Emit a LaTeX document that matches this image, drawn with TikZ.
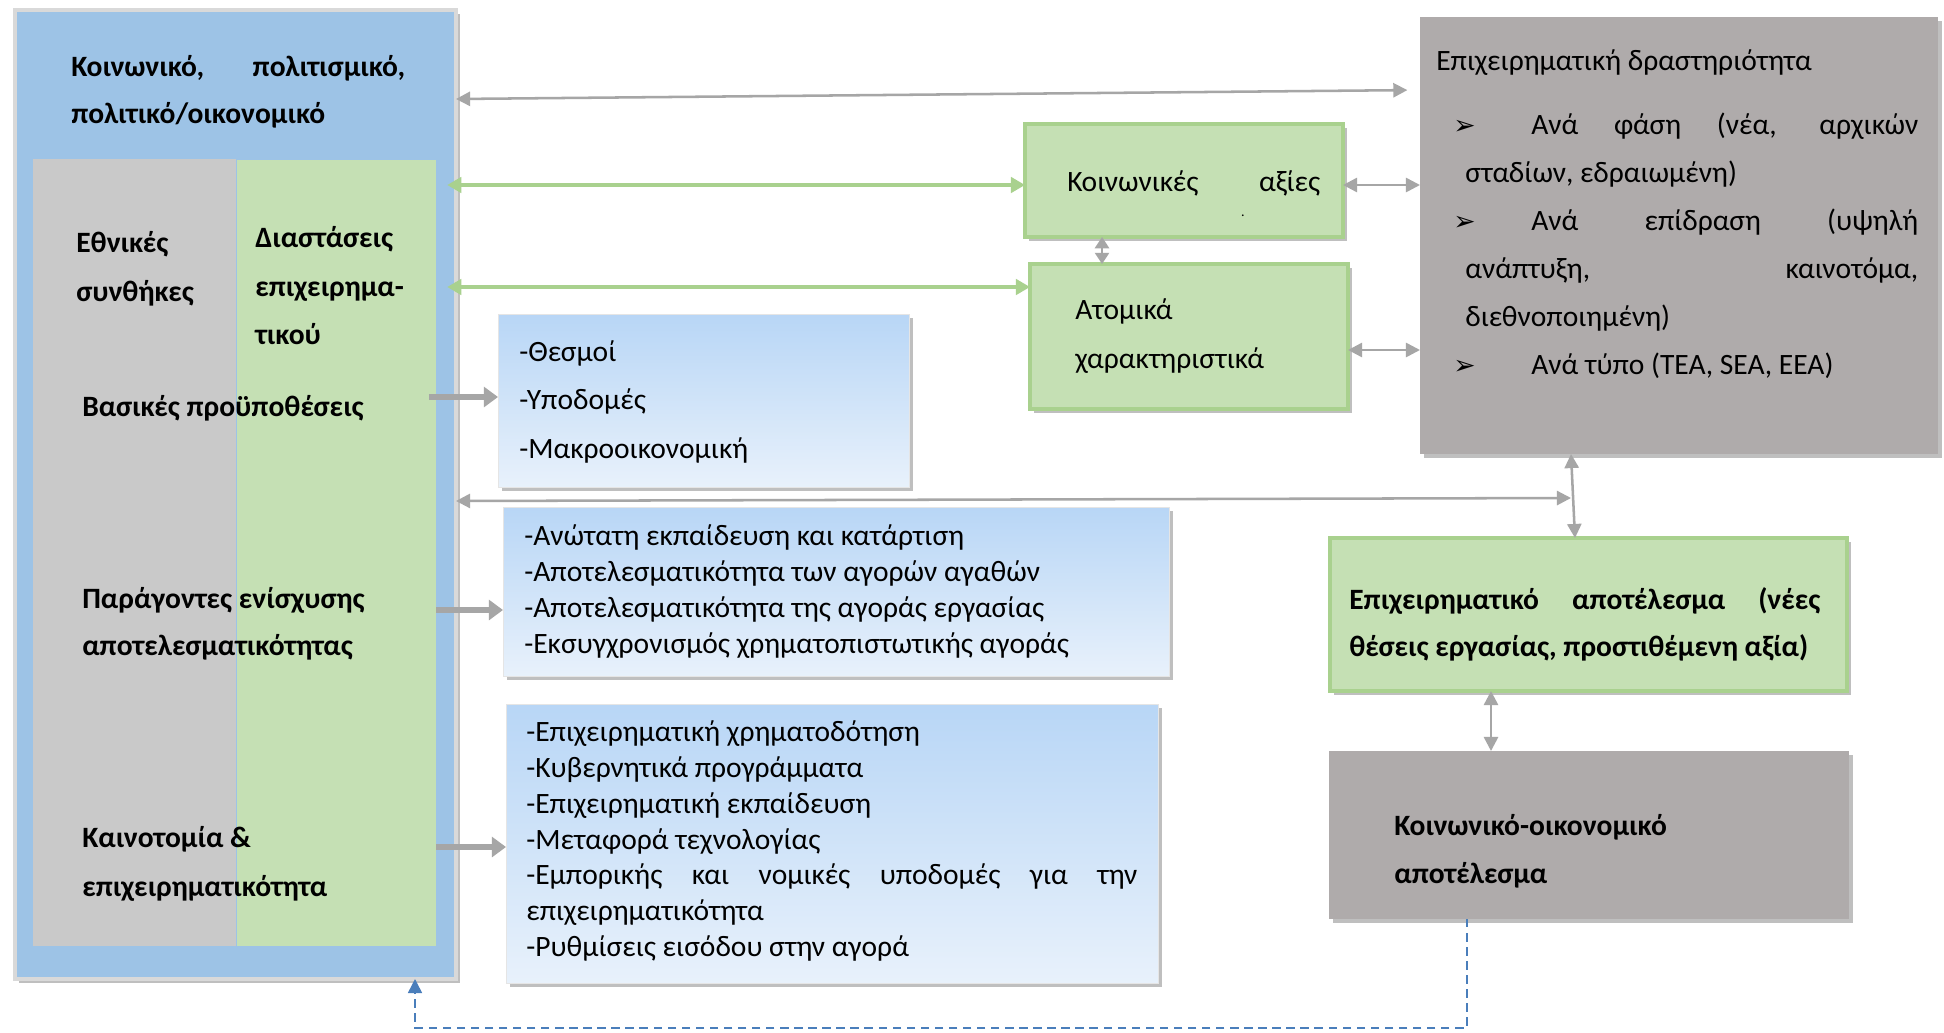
\documentclass[tikz,border=0pt]{standalone}
\usepackage{fontspec}
\setmainfont{Carlito}
\newfontfamily\symfont{DejaVu Sans}
\usetikzlibrary{arrows.meta,shadows}
\definecolor{ctxblue}{HTML}{9DC3E6}
\definecolor{natgray}{HTML}{C9C9C9}
\definecolor{dimgreen}{HTML}{C5E0B4}
\definecolor{dimedge}{HTML}{A9D18E}
\definecolor{actgray}{HTML}{AFABAB}
\definecolor{boxtop}{HTML}{B8D6F6}
\definecolor{boxbot}{HTML}{E8F1FB}
\definecolor{arrgray}{HTML}{A6A6A6}
\definecolor{dashblue}{HTML}{4A7EBB}
\newcommand{\unitpx}{0.025cm}
\newcommand{\fsz}[1]{\fontsize{21}{#1}\selectfont}
\newcommand{\bullmark}{{\symfont\fontsize{19}{19}\selectfont ➢}}
\newcommand{\jline}[2][\hsize]{{\spaceskip=0pt\xspaceskip=0pt\makebox[#1][s]{#2}}}

\begin{document}
\begin{tikzpicture}[x=\unitpx, y=-\unitpx,
  box/.style={anchor=north west, inner sep=0pt, outer sep=0pt},
  shadowed/.style={drop shadow={shadow xshift=2.5pt, shadow yshift=-2.5pt, opacity=0.25, fill=black}},
  ctxbox/.style={box, shadowed, fill=ctxblue, draw=gray!30, line width=3pt},
  itembox/.style={box, shadowed, top color=boxtop, bottom color=boxbot, draw=gray!20, line width=0.6pt},
  greenbox/.style={box, shadowed, fill=dimgreen, draw=dimedge, line width=3.5pt},
  graybox/.style={box, shadowed, fill=actgray},
  txt/.style={anchor=west, inner sep=0pt, align=left, font=\fsz{#1},
    execute at begin node={\spaceskip=0pt\xspaceskip=0pt}},
  txt/.default=34.1pt,
  btxt/.style={txt=#1, font=\fsz{#1}\bfseries},
  btxt/.default=34.1pt,
  thinarr/.style={arrgray, line width=1.8pt, {Triangle[length=10pt,width=10pt]}-{Triangle[length=10pt,width=10pt]}},
  shorttips/.style={{Triangle[length=8pt,width=10pt]}-{Triangle[length=8pt,width=10pt]}},
  greenarr/.style={dimedge, line width=2.2pt, {Triangle[length=10pt,width=11pt]}-{Triangle[length=10pt,width=11pt]}},
  thickarr/.style={arrgray, line width=3.6pt, -{Triangle[length=10pt,width=14pt]}},
  dasharr/.style={dashblue, line width=1.1pt, dash pattern=on 6pt off 4pt, -{Triangle[length=10pt,width=10pt]}}]
  \path[fill=white, use as bounding box] (0,0) rectangle (1944,1032);

  % context on the left
  \node[ctxbox, minimum width=441*\unitpx, minimum height=969*\unitpx] (ctx) at (15,10) {};
  \node[box, fill=natgray, minimum width=203*\unitpx, minimum height=787*\unitpx] (natl) at (33,159) {};
  \node[box, fill=dimgreen, draw=ctxblue, line width=0.4pt, minimum width=200*\unitpx, minimum height=787*\unitpx] (dims) at (236,159) {};
  \node[btxt=33.4pt, text width=334*\unitpx] (t-ctx) at (71,91.5) {\jline{Κοινωνικό, πολιτισμικό,}\\πολιτικό/οικονομικό};
  \node[btxt=34.85pt] (t-natl) at (76,268.5) {Εθνικές\\συνθήκες};
  \node[btxt=34.5pt] (t-dims) at (255,286) {Διαστάσεις\\επιχειρημα-\\τικού};
  \node[btxt] (t-bas) at (82,408) {Βασικές προϋποθέσεις};
  \node[btxt=33.4pt] (t-par) at (82,623.5) {Παράγοντες ενίσχυσης\\αποτελεσματικότητας};
  \node[btxt=34.85pt] (t-kai) at (82,863.5) {Καινοτομία \&\\επιχειρηματικότητα};

  % condition lists
  \node[itembox, minimum width=411*\unitpx, minimum height=173*\unitpx] (inst) at (498,314) {};
  \node[itembox, minimum width=666*\unitpx, minimum height=169*\unitpx] (eff) at (503,507) {};
  \node[itembox, minimum width=652*\unitpx, minimum height=279*\unitpx] (innov) at (506,704) {};
  \node[txt=34.5pt] (t-inst) at (519,401.5) {-Θεσμοί\\-Υποδομές\\-Μακροοικονομική};
  \node[txt=25.4pt] (t-eff) at (524,591.5) {-Ανώτατη εκπαίδευση και κατάρτιση\\-Αποτελεσματικότητα των αγορών αγαθών\\-Αποτελεσματικότητα της αγοράς εργασίας\\-Εκσυγχρονισμός χρηματοπιστωτικής αγοράς};
  \node[txt=25.4pt, text width=611*\unitpx] (t-innov) at (526,841) {-Επιχειρηματική χρηματοδότηση\\-Κυβερνητικά προγράμματα\\-Επιχειρηματική εκπαίδευση\\-Μεταφορά τεχνολογίας\\\jline{-Εμπορικής και νομικές υποδομές για την}\\επιχειρηματικότητα\\-Ρυθμίσεις εισόδου στην αγορά};

  % values and attributes
  \node[greenbox, minimum width=318*\unitpx, minimum height=113*\unitpx] (vals) at (1025,124) {};
  \node[greenbox, minimum width=318*\unitpx, minimum height=145*\unitpx] (indiv) at (1030,264) {};
  \node[txt, text width=253*\unitpx] (t-vals) at (1067,183) {\jline{Κοινωνικές αξίες}};
  \node[inner sep=0pt, font=\fontsize{10}{10}\selectfont] (t-dot) at (1243,216) {.};
  \node[txt=34.85pt] (t-indiv) at (1075,336.5) {Ατομικά\\χαρακτηριστικά};

  % activity and outcomes
  \node[graybox, minimum width=518*\unitpx, minimum height=437*\unitpx] (act) at (1420,17) {};
  \node[greenbox, minimum width=517*\unitpx, minimum height=153*\unitpx] (outc) at (1330,538) {};
  \node[graybox, minimum width=520*\unitpx, minimum height=168*\unitpx] (socio) at (1329,751) {};
  \node[txt] (t-act) at (1436,63) {Επιχειρηματική δραστηριότητα};
  \node[txt, text width=465*\unitpx] (t-list) at (1453,246) {%
    \jline{\makebox[1.95cm][l]{\bullmark}Ανά φάση (νέα, αρχικών}\\
    \hspace*{0.3cm}σταδίων, εδραιωμένη)\\
    \jline{\makebox[1.95cm][l]{\bullmark}Ανά επίδραση (υψηλή}\\
    \hspace*{0.3cm}\jline[\dimexpr\hsize-0.3cm\relax]{ανάπτυξη, καινοτόμα,}\\
    \hspace*{0.3cm}διεθνοποιημένη)\\
    \makebox[1.95cm][l]{\bullmark}Ανά τύπο (TEA, SEA, EEA)};
  \node[btxt=33.4pt, text width=471*\unitpx] (t-outc) at (1349,624.5) {\jline{Επιχειρηματικό αποτέλεσμα (νέες}\\θέσεις εργασίας, προστιθέμενη αξία)};
  \node[btxt] (t-socio) at (1394,851) {Κοινωνικό-οικονομικό\\αποτέλεσμα};

  % connectors
  \coordinate (junc) at (1571,498);
  \coordinate (dashturn) at (415,1028);
  \draw[thinarr, shorten >=9pt] (ctx.east |- 0,99) -- (act.west |- 0,90);
  \draw[greenarr, shorten <=8pt] (dims.east |- 0,185) -- (vals.west |- 0,185);
  \draw[greenarr, shorten <=8pt] (dims.east |- 0,287) -- (indiv.west |- 0,287);
  \draw[thickarr, shorten <=-5pt] (dims.east |- 0,397) -- (inst.west |- 0,397);
  \draw[thickarr] (dims.east |- 0,610) -- (eff.west |- 0,610);
  \draw[thickarr] (dims.east |- 0,847) -- (innov.west |- 0,847);
  \draw[thinarr] (ctx.east |- 0,501) -- (junc);
  \draw[thinarr] (1571,0 |- act.south) -- (1575,0 |- outc.north);
  \draw[thinarr] (vals.east |- 0,185) -- (act.west |- 0,185);
  \draw[thinarr] (indiv.east |- 0,350) -- (act.west |- 0,350);
  \draw[thinarr, shorttips] (1102,0 |- vals.south) -- (1102,0 |- indiv.north);
  \draw[thinarr] (1491,0 |- socio.north) -- (1491,0 |- outc.south);
  \draw[dasharr] (1467,0 |- socio.south) |- (dashturn) -- (dashturn |- ctx.south);
\end{tikzpicture}
\end{document}
